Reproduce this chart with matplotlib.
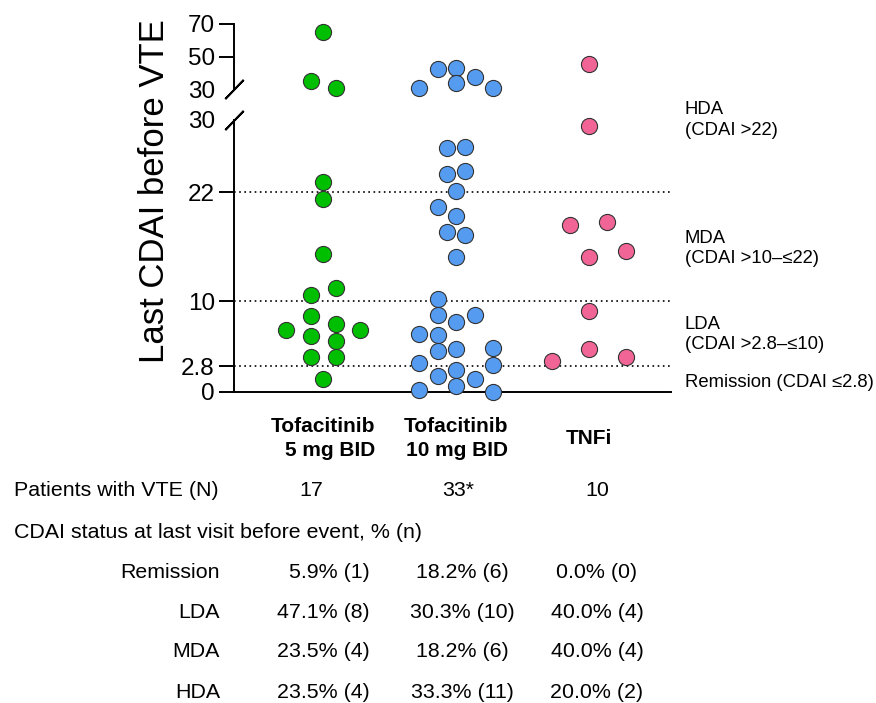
import matplotlib
matplotlib.use("Agg")
import matplotlib.pyplot as plt
from matplotlib.transforms import blended_transform_factory

### DATA
groups = ["Tofacitinib\n5 mg BID", "Tofacitinib\n10 mg BID", "TNFi"]
colors = ["#00BE00", "#559BF0", "#F06496"]

# Last CDAI before VTE per patient, with swarm offset (fraction of category width)
tofa5_cdai = [64.9, 35.1, 31.0, 23.2, 21.3, 15.2, 11.4, 10.7, 8.3, 7.5, 6.8, 6.8, 6.1, 5.6, 3.8, 3.8, 1.4]
tofa5_offset = [0, -0.0925, 0.0925, 0, 0, 0, 0.0925, -0.0925, -0.0925, 0.0925, -0.278, 0.278,
                -0.0925, 0.0925, -0.0925, 0.0925, 0]

tofa10_cdai = [30.6, 42.4, 42.9, 33.7, 37.7, 30.6,
               26.9, 27.0, 24.0, 24.4, 22.2, 20.4, 19.4, 17.6, 17.3, 14.9,
               10.2, 8.4, 7.7, 8.5, 6.4, 6.2, 4.5, 4.7, 4.8, 3.2, 2.9,
               2.4, 1.7, 1.4, 0.6, 0.2, 0.0]
tofa10_offset = [-0.278, -0.139, 0, 0, 0.139, 0.278,
                 -0.07, 0.07, -0.07, 0.07, 0, -0.139, 0, -0.07, 0.07, 0,
                 -0.139, -0.139, 0, 0.139, -0.278, -0.139, -0.139, 0, 0.278, -0.278, 0.278,
                 0, -0.139, 0.139, 0, -0.278, 0.278]

tnfi_cdai = [45.3, 29.3, 18.4, 18.7, 15.5, 14.9, 8.9, 4.7, 3.4, 3.8]
tnfi_offset = [0, 0, -0.139, 0.139, 0.278, 0, 0, 0, -0.278, 0.278]

# CDAI cut-offs and bands
cutoffs = [2.8, 10, 22]
low_ticks = [0, 2.8, 10, 22, 30]
low_ticklabels = ["0", "2.8", "10", "22", "30"]
high_ticks = [30, 50, 70]
band_labels = ["HDA\n(CDAI >22)", "MDA\n(CDAI >10\u2013\u226422)", "LDA\n(CDAI >2.8\u2013\u226410)",
               "Remission (CDAI \u22642.8)"]
band_label_y = [30, 15.8, 6.3, 1.0]

# Summary table
n_patients = ["17", "33*", "10"]
status_rows = ["Remission", "LDA", "MDA", "HDA"]
tofa5_status = ["5.9% (1)", "47.1% (8)", "23.5% (4)", "23.5% (4)"]
tofa10_status = ["18.2% (6)", "30.3% (10)", "18.2% (6)", "33.3% (11)"]
tnfi_status = ["0.0% (0)", "40.0% (4)", "40.0% (4)", "20.0% (2)"]

### PLOT
plt.rcParams["font.family"] = ["Liberation Sans", "DejaVu Sans"]

W, H = 876, 703
fig = plt.figure(figsize=(W / 100, H / 100), dpi=100)


def fx(x):
    return x / W


def fy(y):
    return 1 - y / H


x0, x1 = 234.3, 671
ax_lo = fig.add_axes([fx(x0), fy(391.5), (x1 - x0) / W, (391.5 - 120) / H])
ax_hi = fig.add_axes([fx(x0), fy(89.3), (x1 - x0) / W, (89.3 - 24) / H])

break_at = 30
series = [(tofa5_cdai, tofa5_offset), (tofa10_cdai, tofa10_offset), (tnfi_cdai, tnfi_offset)]
for i, (vals, offs) in enumerate(series):
    for ax, keep in ((ax_lo, lambda v: v <= break_at), (ax_hi, lambda v: v > break_at)):
        xs = [i + o for v, o in zip(vals, offs) if keep(v)]
        ys = [v for v in vals if keep(v)]
        ax.scatter(xs, ys, s=135, color=colors[i], edgecolor="#333333", linewidth=0.8,
                   zorder=4, clip_on=False)

for ax in (ax_lo, ax_hi):
    ax.set_xlim(-0.67, 2.618)
    for side in ("top", "right"):
        ax.spines[side].set_visible(False)
    ax.spines["left"].set_linewidth(1.4)
    ax.tick_params(axis="y", length=11, width=1.4, labelsize=17.5, pad=3)
    ax.patch.set_alpha(0)

ax_lo.set_ylim(0, 30)
ax_lo.set_yticks(low_ticks)
ax_lo.set_yticklabels(low_ticklabels)
ax_lo.spines["bottom"].set_linewidth(1.4)
ax_lo.set_xticks([])
ax_lo.yaxis.get_major_ticks()[-1].tick1line.set_visible(False)

ax_hi.set_ylim(30, 70)
ax_hi.set_yticks(high_ticks)
ax_hi.spines["bottom"].set_visible(False)
ax_hi.set_xticks([])
ax_hi.yaxis.get_major_ticks()[0].tick1line.set_visible(False)

# break marks
for ax in (ax_lo, ax_hi):
    ax.plot([0], [break_at], transform=ax.get_yaxis_transform(), marker=(2, 2, -44),
            markersize=19, markeredgewidth=1.4, color="black", clip_on=False, zorder=5)

for c in cutoffs:
    ax_lo.axhline(c, color="black", linewidth=1.2, dashes=(1, 2.1), zorder=1)

for lab, yv in zip(band_labels, band_label_y):
    ax_lo.text(1.032, yv, lab, transform=ax_lo.get_yaxis_transform(), ha="left", va="center",
               fontsize=13.3, linespacing=1.3)

fig.text(fx(154), fy(191), "Last CDAI before VTE", rotation=90, ha="center", va="center",
         fontsize=25)

# group labels
lab_tr = blended_transform_factory(ax_lo.transData, fig.transFigure)
for i, g in enumerate(groups):
    ax_lo.text(i, fy(438.5), g, transform=lab_tr, ha="center", va="center", multialignment="right",
               fontsize=15, fontweight="bold", linespacing=1.3)

# summary table
fig.text(fx(14), fy(490.7), "Patients with VTE (N)", ha="left", va="center", fontsize=15.4)
for xc, n in zip([311, 458, 597], n_patients):
    fig.text(fx(xc), fy(490.7), n, ha="center", va="center", fontsize=15.4)

fig.text(fx(14), fy(532.3), "CDAI status at last visit before event, % (n)", ha="left",
         va="center", fontsize=15.4)

row_y = [572.3, 612.3, 651.7, 692.3]
for r, yr in enumerate(row_y):
    fig.text(fx(220), fy(yr), status_rows[r], ha="right", va="center", fontsize=15.4)
    fig.text(fx(370), fy(yr), tofa5_status[r], ha="right", va="center", fontsize=15.4)
    fig.text(fx(462), fy(yr), tofa10_status[r], ha="center", va="center", fontsize=15.4)
    fig.text(fx(597), fy(yr), tnfi_status[r], ha="center", va="center", fontsize=15.4)

fig.savefig("out.png", dpi=100)
